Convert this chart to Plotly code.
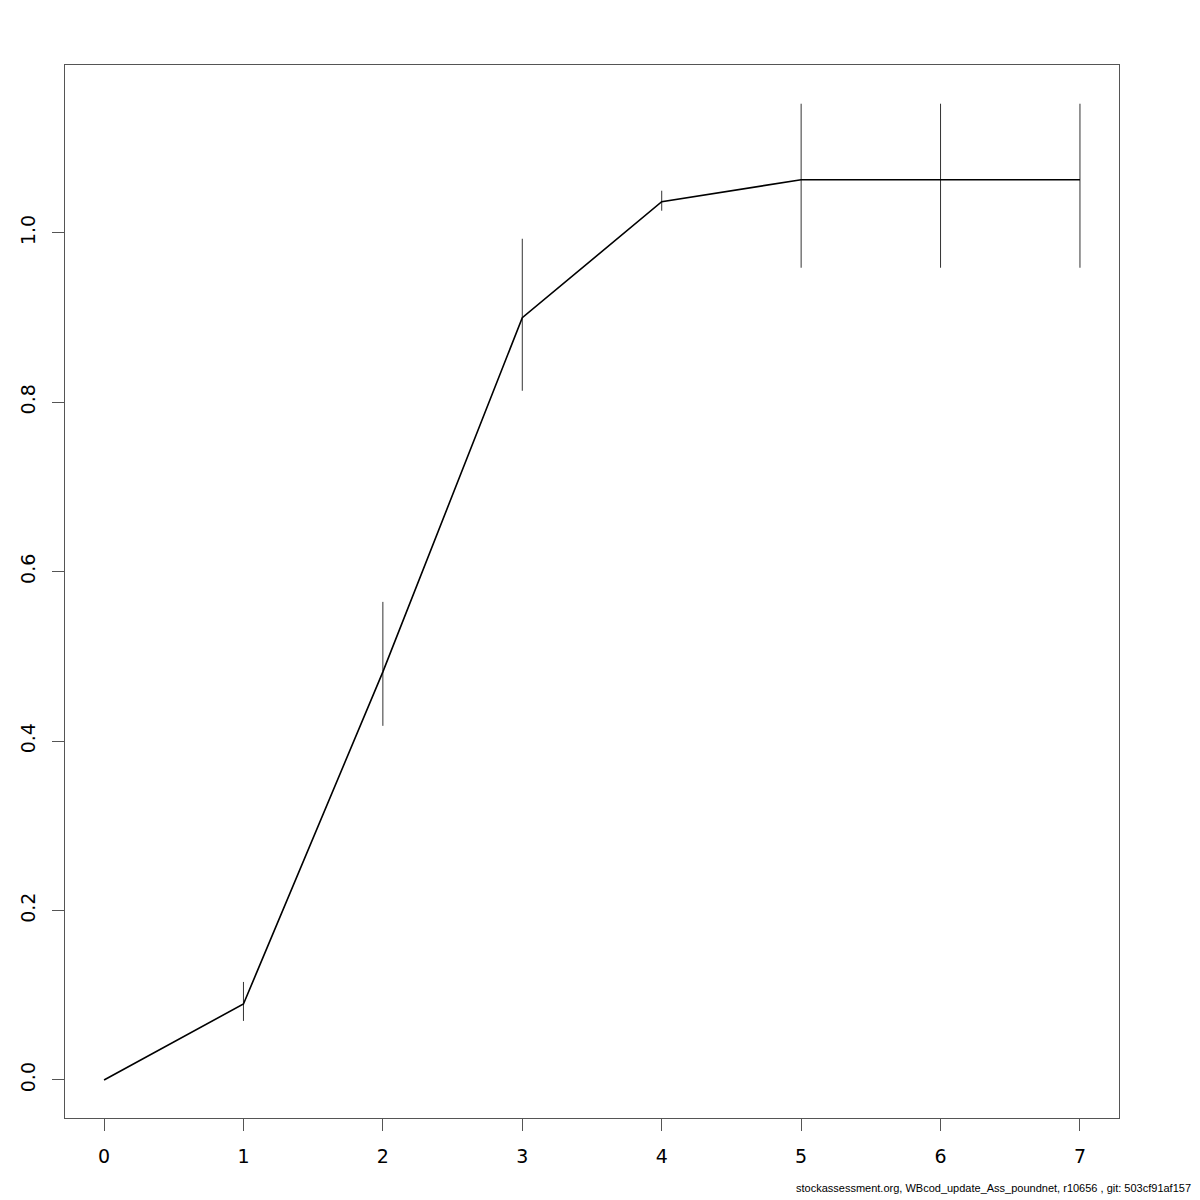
import plotly.graph_objects as go

ages = [0, 1, 2, 3, 4, 5, 6, 7]
estimate = [0.0, 0.0897, 0.4817, 0.8997, 1.0366, 1.0626, 1.0626, 1.0626]
upper = [0.0, 0.1157, 0.5643, 0.9929, 1.0496, 1.1523, 1.1523, 1.1523]
lower = [0.0, 0.0697, 0.4180, 0.8135, 1.0260, 0.9587, 0.9587, 0.9587]
x_ticks = [0, 1, 2, 3, 4, 5, 6, 7]
y_ticks = [0.0, 0.2, 0.4, 0.6, 0.8, 1.0]
y_tick_labels = ["0.0", "0.2", "0.4", "0.6", "0.8", "1.0"]
footer = "stockassessment.org, WBcod_update_Ass_poundnet, r10656 , git: 503cf91af157"

err_plus = [u - e for u, e in zip(upper, estimate)]
err_minus = [e - l for e, l in zip(estimate, lower)]

# page has an 8px body margin, so shift margins to place the plot box at 65..1119 / 65..1118
OFF = 8
fig = go.Figure()
fig.add_trace(go.Scatter(
    x=ages, y=estimate, mode="lines",
    line=dict(color="black", width=1.6),
    error_y=dict(type="data", symmetric=False, array=err_plus, arrayminus=err_minus,
                 width=0, thickness=1, color="#333333"),
    showlegend=False, hoverinfo="skip",
))

fig.update_layout(
    width=1200, height=1200,
    paper_bgcolor="white", plot_bgcolor="white",
    margin=dict(l=65 - OFF, r=81 + OFF, t=65 - OFF, b=82 + OFF),
    font=dict(family="DejaVu Sans", size=19, color="black"),
    xaxis=dict(range=[-0.28, 7.28], tickvals=x_ticks, ticktext=[str(v) for v in x_ticks],
               ticks="outside", ticklen=12, tickcolor="#555", tickwidth=1,
               showline=True, linecolor="#555", linewidth=1, mirror=True, automargin=False,
               showgrid=False, zeroline=False, ticklabelstandoff=9),
    yaxis=dict(range=[-0.0449, 1.198], tickvals=y_ticks, ticktext=y_tick_labels,
               ticks="outside", ticklen=12, tickcolor="#555", tickwidth=1,
               showline=True, linecolor="#555", linewidth=1, mirror=True, automargin=False,
               showgrid=False, zeroline=False, tickangle=-90, ticklabelstandoff=9),
    annotations=[
        dict(text="Age", xref="paper", yref="paper", x=0.5, y=-0.0715,
             xanchor="center", yanchor="top", showarrow=False,
             font=dict(family="DejaVu Sans", size=20, color="black")),
        dict(text=footer, xref="paper", yref="paper", x=1.0702, y=-0.0745,
             xanchor="right", yanchor="bottom", showarrow=False,
             font=dict(family="Liberation Sans", size=11, color="black")),
    ],
)

fig.write_html("out.html")
